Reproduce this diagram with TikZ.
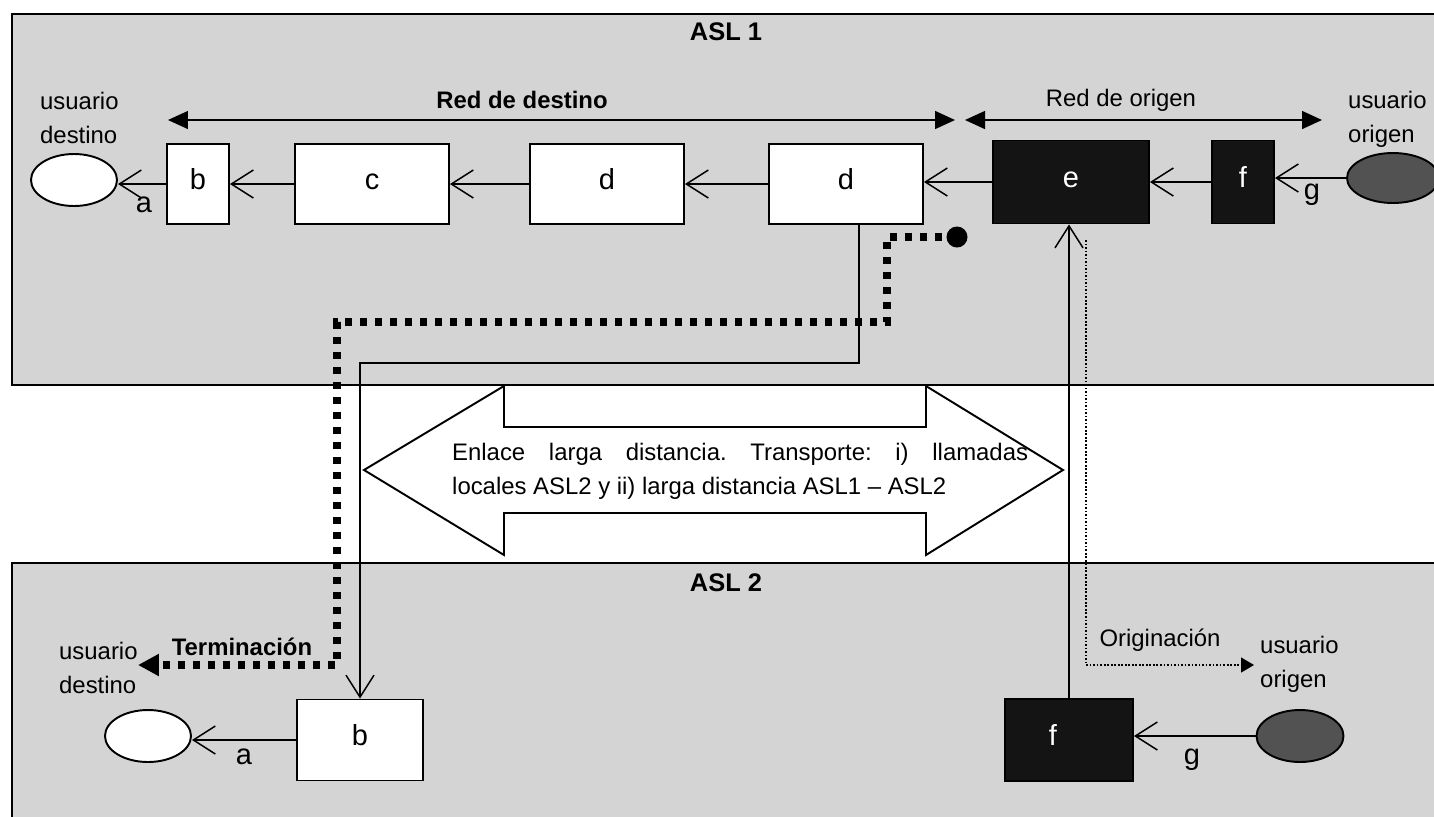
\documentclass[tikz,border=0pt]{standalone}
\usepackage{fontspec}
\setmainfont{Liberation Sans}
\usetikzlibrary{arrows.meta,shapes.geometric}
\newcommand\lblfont{\fontsize{13.6}{19.5}\selectfont}
\newcommand\bigfont{\fontsize{16.5}{19.5}\selectfont}

\begin{document}
\frenchspacing
\begin{tikzpicture}[x=0.02cm,y=-0.02cm,
  every node/.style={font=\lblfont},
  boldlabel/.style={font=\lblfont\bfseries},
  tag/.style={font=\bigfont},
  panel/.style={draw,line width=1.3pt,fill=black!17},
  box/.style={draw,line width=1.1pt,fill=white,inner sep=0pt,minimum height=1.6cm,font=\bigfont,text height=0.72em,text depth=0.1em},
  darkbox/.style={draw,line width=1.1pt,fill=black!92,text=white,inner sep=0pt,font=\bigfont,text height=0.72em,text depth=0.1em},
  user/.style={ellipse,draw,line width=1.1pt,fill=white,inner sep=0pt,minimum width=1.72cm,minimum height=1.04cm},
  darkuser/.style={user,fill=black!68},
  conn/.style={line width=0.85pt,-{Straight Barb[length=0.44cm,width=0.56cm]}},
  spanline/.style={line width=0.85pt,{Triangle[length=0.4cm,width=0.36cm]}-{Triangle[length=0.4cm,width=0.36cm]}},
  termline/.style={line width=4pt,dash pattern=on 0.14cm off 0.16cm,-{Triangle[length=0.42cm,width=0.42cm]}},
  origline/.style={line width=0.7pt,dash pattern=on 1pt off 1pt,-{Triangle[length=0.26cm,width=0.3cm]}}]
\fill[white] (0,0) rectangle (1434,816);
\useasboundingbox (0,0) rectangle (1434,816);

% areas
\draw[panel] (12,14) rectangle (1445,385);
\draw[panel] (12,563) rectangle (1445,830);
\node[boldlabel,font=\fontsize{14.5}{19.5}\selectfont\bfseries] (asl1) at (726,32) {ASL 1};
\node[boldlabel,font=\fontsize{14.5}{19.5}\selectfont\bfseries] (asl2) at (726,583) {ASL 2};

% ASL 1
\node[boldlabel] (reddest) at (522,100) {Red de destino};
\node (redorig) at (1121,100) {Red de origen};
\coordinate (rd1) at (168,120);
\coordinate (rd2) at (955,120);
\coordinate (ro1) at (965,120);
\coordinate (ro2) at (1322,120);
\draw[spanline] (rd1) -- (rd2);
\draw[spanline] (ro1) -- (ro2);
\node[anchor=west,align=left] (udest1) at (34,118) {usuario\\destino};
\node[anchor=west,align=left] (uorig1) at (1342,119) {usuario\\origen};

\node[user] (dest1) at (74,180) {};
\node[box,minimum width=1.24cm] (b1) at (198,184) {b};
\node[box,minimum width=3.08cm] (c1) at (372,184) {c};
\node[box,minimum width=3.08cm] (d1) at (607,184) {d};
\node[box,minimum width=3.08cm] (d2) at (846,184) {d};
\node[darkbox,minimum width=3.12cm,minimum height=1.66cm] (e1) at (1071,182) {e};
\node[darkbox,minimum width=1.24cm,minimum height=1.66cm] (f1) at (1243,182) {f};
\node[darkuser,minimum width=1.84cm,minimum height=1cm] (orig1) at (1393,178) {};
\node[tag] (a1) at (144,205) {a};
\node[tag] (g1) at (1312,195) {g};

\draw[conn] (b1.west) -- (b1.west -| dest1.east);
\draw[conn] (c1.west) -- (c1.west -| b1.east);
\draw[conn] (d1.west) -- (d1.west -| c1.east);
\draw[conn] (d2.west) -- (d2.west -| d1.east);
\draw[conn] (e1.west) -- (e1.west -| d2.east);
\draw[conn] (f1.west) -- (f1.west -| e1.east);
\draw[conn] (orig1.west) -- (orig1.west -| f1.east);

% long distance link
\draw[line width=1.1pt,fill=white] (364,470) -- (504,386) -- (504,427) -- (926,427) -- (926,386)
  -- (1063,470) -- (926,555) -- (926,513) -- (504,513) -- (504,555) -- cycle;
\node[anchor=west,align=left] (enlace) at (446,471)
  {\makebox[11.52cm][s]{Enlace larga distancia. Transporte: i) llamadas}\\locales ASL2 y ii) larga distancia ASL1 -- ASL2};

% ASL 2
\node[user] (dest2) at (148,736) {};
\node[box,minimum width=2.52cm,minimum height=1.62cm] (b2) at (360,740) {b};
\node[darkbox,minimum width=2.56cm,minimum height=1.64cm] (f2) at (1069,740) {f\rule{0.64cm}{0pt}};
\node[darkuser,minimum width=1.74cm] (orig2) at (1300,736) {};
\node[tag] (a2) at (244,757) {a};
\node[tag] (g2) at (1192,760) {g};
\node[anchor=west,align=left] (udest2) at (53,668) {usuario\\destino};
\node[boldlabel] (term) at (242,647) {Terminación};
\node (origin) at (1160,640) {Originación};
\node[anchor=west,align=left] (uorig2) at (1254,664) {usuario\\origen};

\draw[conn] (b2.west) -- (b2.west -| dest2.east);
\draw[conn] (orig2.west) -- (orig2.west -| f2.east);

% routes between areas
\coordinate (s1) at (859,363);
\coordinate (s2) at (360,363);
\draw[conn] (s1 |- d2.south) -- (s1) -- (s2) -- (b2.north);
\draw[conn] (f2.north) -- (f2.north |- e1.south);

\coordinate (t1) at (887,237);
\coordinate (t2) at (887,322);
\coordinate (t3) at (337,322);
\coordinate (t4) at (337,665);
\coordinate (tend) at (138,665);
\draw[termline] (957,237) -- (t1) -- (t2) -- (t3) -- (t4) -- (tend);
\node[circle,fill,inner sep=0pt,minimum size=0.42cm] (dot) at (957,237) {};

\coordinate (o0) at (1086,240);
\coordinate (o1) at (1086,665);
\coordinate (oend) at (1254,665);
\draw[origline] (o0) -- (o1) -- (oend);
\end{tikzpicture}
\end{document}
